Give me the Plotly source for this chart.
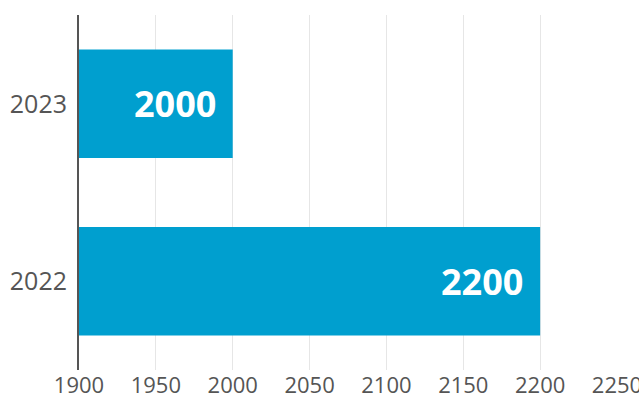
import plotly.graph_objects as go

# data
years = ["2022", "2023"]
values = [2200, 2000]
x_ticks = [1900, 1950, 2000, 2050, 2100, 2150, 2200, 2250]

BAR_COLOR = "#009FCF"
TEXT_COLOR = "#555555"
FONT = "Open Sans, sans-serif"

fig = go.Figure()
fig.add_trace(go.Bar(
    x=values,
    y=years,
    orientation="h",
    marker_color=BAR_COLOR,
    marker_line_width=0,
    hoverinfo="skip",
))

# value labels inside the bar ends (y given as category index)
for i, v in enumerate(values):
    fig.add_annotation(
        x=v, y=i, text=f"<b>{v}</b>",
        showarrow=False, xanchor="right", xshift=-15,
        font=dict(family=FONT, size=36, color="white"),
    )

fig.update_layout(
    width=639, height=401,
    margin=dict(l=79, r=22, t=15, b=31, autoexpand=False),
    plot_bgcolor="white", paper_bgcolor="white",
    bargap=0.39,
    showlegend=False,
    font=dict(family=FONT, size=25, color=TEXT_COLOR),
)
fig.update_xaxes(
    range=[1900, 2250], tickvals=x_ticks, ticks="",
    showgrid=True, gridcolor="#e6e6e6",
    zeroline=False, showline=False,
    ticklabeloverflow="allow",
    tickfont=dict(size=22),
)
fig.update_yaxes(
    type="category",
    showline=True, linecolor="#555555", linewidth=2,
    ticks="", showgrid=False, zeroline=False,
    ticklabelstandoff=5,
)

fig.write_html("out.html", config={"displayModeBar": False},
               post_script="document.body.style.margin='0';")
